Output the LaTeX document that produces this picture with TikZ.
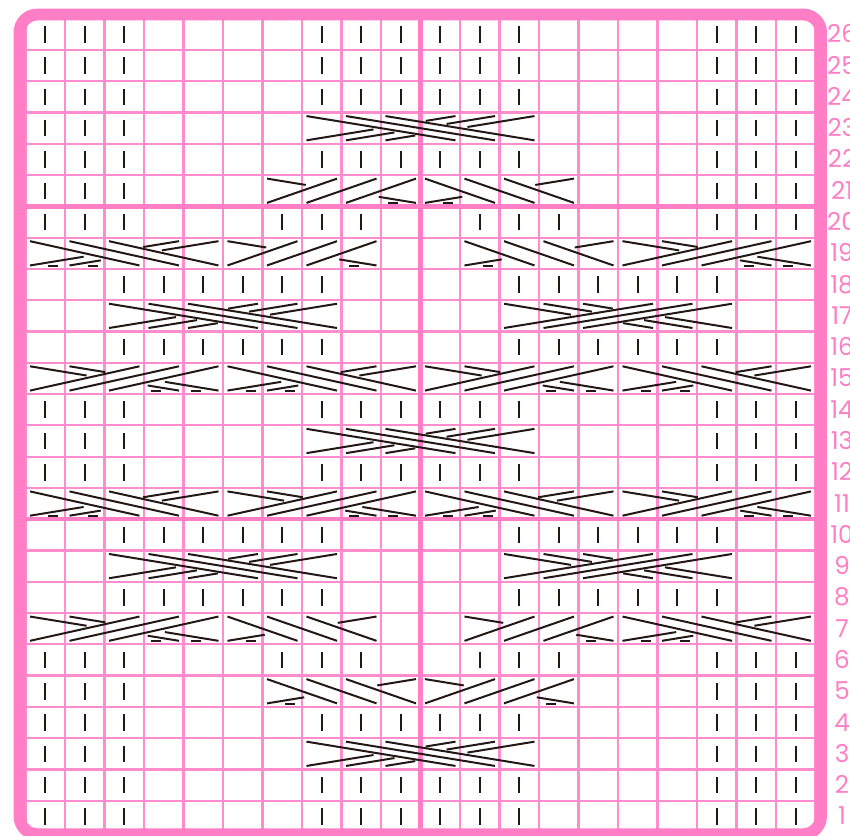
\documentclass[tikz,border=0pt]{standalone}
\usepackage{fontspec}
\newfontfamily\numfont{Poppins}
\usepackage{tikz}
\usetikzlibrary{calc}
\definecolor{chartpink}{HTML}{FF7EC6}
\definecolor{gridpink}{HTML}{FF8CCC}
\definecolor{ink}{HTML}{231815}
\tikzset{
    gridline/.style = {gridpink, line width=1.9pt},
    tenline/.style = {chartpink, line width=3.8pt},
    frameline/.style = {chartpink, line width=10.2pt, rounded corners=5.4mm},
    knitbar/.style = {ink, line width=1.8pt},
    strand/.style = {ink, line width=1.7pt},
    rownum/.style = {chartpink, inner sep=0pt, anchor=base,
                     font=\numfont\fontsize{21}{21}\selectfont},
}
% cell edges, in px of the chart
\newcommand{\colx}[1]{25.5+39.5*(#1)}
\newcommand{\rowy}[1]{832-31.28*(#1)}
% ends of one strand: row, bottom column, top column
\newcommand{\strandends}[3]{%
  \pgfmathsetmacro{\sdir}{ifthenelse((#3)>(#2),1,-1)}%
  \pgfmathsetmacro{\sbx}{\colx{#2+(1-\sdir)/2}+4.5*\sdir}%
  \pgfmathsetmacro{\stx}{\colx{#3+(1+\sdir)/2}-4.5*\sdir}%
  \pgfmathsetmacro{\sby}{\rowy{#1-1}-3.5}%
  \pgfmathsetmacro{\sty}{\rowy{#1}+3.5}%
  \coordinate (sb) at (\sbx,\sby);%
  \coordinate (st) at (\stx,\sty);%
}
\newcommand{\frontstrand}[3]{\strandends{#1}{#2}{#3}\draw[strand] (sb) -- (st);}
\newcommand{\backstrand}[5]{\strandends{#1}{#2}{#3}%
  \draw[strand] (sb) -- ($(sb)!#4!(st)$) ($(sb)!#5!(st)$) -- (st);}
\newcommand{\purlstrand}[5]{\backstrand{#1}{#2}{#3}{#4}{#5}%
  \draw[strand] ($(sb)+(18*\sdir,0.5)$) -- ($(sb)+(28*\sdir,0.5)$);}
% 3 over 3
\newcommand{\crossTL}[2]{%
  \backstrand{#1}{#2}{#2+3}{0.45}{0.8}\backstrand{#1}{#2+1}{#2+4}{0.325}{0.675}%
  \backstrand{#1}{#2+2}{#2+5}{0.2}{0.55}%
  \frontstrand{#1}{#2+3}{#2}\frontstrand{#1}{#2+4}{#2+1}\frontstrand{#1}{#2+5}{#2+2}}
\newcommand{\crossTR}[2]{%
  \backstrand{#1}{#2+5}{#2+2}{0.45}{0.8}\backstrand{#1}{#2+4}{#2+1}{0.325}{0.675}%
  \backstrand{#1}{#2+3}{#2}{0.2}{0.55}%
  \frontstrand{#1}{#2}{#2+3}\frontstrand{#1}{#2+1}{#2+4}\frontstrand{#1}{#2+2}{#2+5}}
% 3 over 1 purl
\newcommand{\crossKR}[2]{%
  \purlstrand{#1}{#2+3}{#2}{0.25}{0.74}%
  \frontstrand{#1}{#2}{#2+1}\frontstrand{#1}{#2+1}{#2+2}\frontstrand{#1}{#2+2}{#2+3}}
\newcommand{\crossKL}[2]{%
  \purlstrand{#1}{#2}{#2+3}{0.25}{0.74}%
  \frontstrand{#1}{#2+1}{#2}\frontstrand{#1}{#2+2}{#2+1}\frontstrand{#1}{#2+3}{#2+2}}
% 3 over 2 purl
\newcommand{\crossPL}[2]{%
  \purlstrand{#1}{#2}{#2+3}{0.36}{0.76}\purlstrand{#1}{#2+1}{#2+4}{0.21}{0.62}%
  \frontstrand{#1}{#2+2}{#2}\frontstrand{#1}{#2+3}{#2+1}\frontstrand{#1}{#2+4}{#2+2}}
\newcommand{\crossPR}[2]{%
  \purlstrand{#1}{#2+4}{#2+1}{0.36}{0.76}\purlstrand{#1}{#2+3}{#2}{0.21}{0.62}%
  \frontstrand{#1}{#2}{#2+2}\frontstrand{#1}{#2+1}{#2+3}\frontstrand{#1}{#2+2}{#2+4}}
\newcommand{\knitbar}[2]{\draw[knitbar] ({\colx{#2}+19.75},{\rowy{#1}+7.4}) -- ++(0,16.5);}

\begin{document}
\begin{tikzpicture}[x=0.3mm, y=-0.3mm]
  \useasboundingbox (0,0) rectangle (850,836);
  \fill[white] (0,0) rectangle (850,836);
  % grid
  \begin{scope}
    \clip[rounded corners=5.4mm] (19.5,14.5) rectangle (821,834.3);
    \foreach \i in {0,...,20} \draw[gridline] ({\colx{\i}},0) -- ({\colx{\i}},840);
    \foreach \r in {0,...,26} \draw[gridline] (0,{\rowy{\r}}) -- (830,{\rowy{\r}});
    \draw[tenline] ({\colx{10}},0) -- ({\colx{10}},840);
    \foreach \r in {10,20} \draw[tenline] (0,{\rowy{\r}}) -- (830,{\rowy{\r}});
  \end{scope}
  \draw[frameline] (19.5,14.5) rectangle (821,834.3);
  % knit stitches
  \foreach \r in {26,25,24,22,14,12,4,2,1}
    \foreach \c in {0,1,2,7,8,9,10,11,12,17,18,19} \knitbar{\r}{\c};
  \foreach \r in {23,21,13,5,3}
    \foreach \c in {0,1,2,17,18,19} \knitbar{\r}{\c};
  \foreach \r in {20,6}
    \foreach \c in {0,1,2,6,7,8,11,12,13,17,18,19} \knitbar{\r}{\c};
  \foreach \r in {18,16,10,8}
    \foreach \c in {2,3,4,5,6,7,12,13,14,15,16,17} \knitbar{\r}{\c};
  % cables
  \foreach \r in {23,13,3} \crossTL{\r}{7};
  \crossKR{21}{6} \crossKL{21}{10}
  \crossPL{19}{0} \crossKR{19}{5} \crossKL{19}{11} \crossPR{19}{15}
  \foreach \r in {17,9} {\crossTL{\r}{2} \crossTR{\r}{12}}
  \crossPR{15}{0} \crossPL{15}{5} \crossPR{15}{10} \crossPL{15}{15}
  \crossPL{11}{0} \crossPR{11}{5} \crossPL{11}{10} \crossPR{11}{15}
  \crossPR{7}{0} \crossKL{7}{5} \crossKR{7}{11} \crossPL{7}{15}
  \crossKL{5}{6} \crossKR{5}{10}
  % row numbers
  \foreach \r in {1,...,26}
    \node[rownum] (row\r) at (842,{\rowy{\r}+15.64+8.5}) {\r};
\end{tikzpicture}
\end{document}
